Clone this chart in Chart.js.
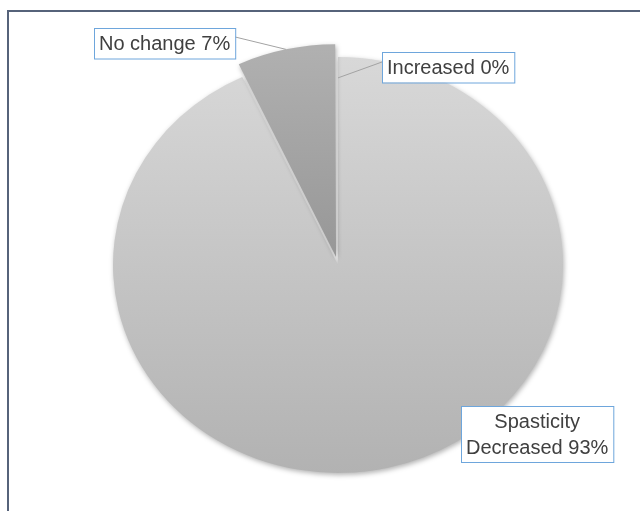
<!DOCTYPE html>
<html>
<head>
<meta charset="utf-8">
<script src="https://cdn.jsdelivr.net/npm/chart.js@4.4.1/dist/chart.umd.min.js"></script>
<style>
  html, body { margin: 0; padding: 0; background: #fff; overflow: hidden; }
  #wrap { position: relative; width: 640px; height: 511px; }
  #frame { position: absolute; left: 7px; top: 10px; width: 700px; height: 600px; border: 2px solid #56637a; box-sizing: border-box; }
  canvas { position: absolute; left: 0; top: 0; }
</style>
</head>
<body>
<div id="wrap">
  <div id="frame"></div>
  <canvas id="pieChart" width="640" height="511"></canvas>
</div>
<script>
// Outcome categories, clockwise from 12 o'clock
const categories = ['Increased', ['Spasticity', 'Decreased'], 'No change'];
const percentages = [0, 93, 7];

// Slice look: gradient top/bottom colours and explode offset
const sliceShades = [['#d8d8d8', '#b2b2b2'], ['#d8d8d8', '#b2b2b2'], ['#b0b0b0', '#7e7e7e']];
const sliceOffsets = [0, 0, 36];

// Callout boxes: centre of box, leader line side and how far into the pie it reaches
const labelLayout = [
    { x: 448, y: 67.5, side: 'left', lineY: 10, reach: 0.9 },
    { x: 537, y: 434, side: null },
    { x: 164.5, y: 43, side: 'right', lineY: 9, reach: 1.0 }
];

const PIE_RADIUS = 225;
const Y_SQUASH = 0.924;   // pie is drawn slightly flattened
const FONT = '20px "Liberation Sans", Arial, sans-serif';
const LINE_H = 25.5;
const PAD_X = 5;
const PAD_Y = 2.5;

function pieCenter(chart) {
    const a = chart.chartArea;
    return { cx: (a.left + a.right) / 2, cy: (a.top + a.bottom) / 2 };
}

function labelLines(i) {
    const cat = categories[i];
    const lines = Array.isArray(cat) ? cat.slice() : [cat];
    lines[lines.length - 1] += ' ' + percentages[i] + '%';
    return lines;
}

function sliceFill(context) {
    const shade = sliceShades[context.dataIndex];
    const chart = context.chart;
    if (!chart.chartArea) return shade[0];
    const { cy } = pieCenter(chart);
    const g = chart.ctx.createLinearGradient(0, cy - PIE_RADIUS, 0, cy + PIE_RADIUS);
    g.addColorStop(0, shade[0]);
    g.addColorStop(1, shade[1]);
    return g;
}

// Squash the pie vertically and give it a soft drop shadow
const ellipsePlugin = {
    id: 'ellipse',
    beforeDatasetsDraw(chart) {
        const ctx = chart.ctx;
        const { cx, cy } = pieCenter(chart);
        ctx.save();
        ctx.translate(cx, cy);
        ctx.scale(1, Y_SQUASH);
        ctx.translate(-cx, -cy);
        ctx.shadowColor = 'rgba(0, 0, 0, 0.3)';
        ctx.shadowBlur = 5;
        ctx.shadowOffsetX = 1;
        ctx.shadowOffsetY = 2;
    },
    afterDatasetsDraw(chart) {
        chart.ctx.restore();
    }
};

// Boxed data labels with leader lines
const calloutPlugin = {
    id: 'callouts',
    afterDraw(chart) {
        const ctx = chart.ctx;
        const { cx, cy } = pieCenter(chart);
        const meta = chart.getDatasetMeta(0);
        ctx.save();
        ctx.font = FONT;
        labelLayout.forEach((lay, i) => {
            const lines = labelLines(i);
            const w = Math.max(...lines.map(l => ctx.measureText(l).width)) + PAD_X * 2;
            const h = lines.length * LINE_H + PAD_Y * 2;
            const left = Math.round(lay.x - w / 2);
            const top = Math.round(lay.y - h / 2);

            if (lay.side) {
                const arc = meta.data[i];
                const mid = (arc.startAngle + arc.endAngle) / 2;
                const shift = (arc.options.offset || 0) / 4;
                const fix = 1 - Math.sin(Math.min(Math.PI, arc.circumference));
                const r = arc.outerRadius * lay.reach + shift * (1 + fix);
                const px = cx + Math.cos(mid) * r;
                const py = cy + Math.sin(mid) * r * Y_SQUASH;
                const sx = lay.side === 'left' ? left : left + w;
                ctx.beginPath();
                ctx.moveTo(sx, top + lay.lineY);
                ctx.lineTo(px, py);
                ctx.strokeStyle = '#a3a3a3';
                ctx.lineWidth = 1;
                ctx.stroke();
            }

            ctx.fillStyle = '#ffffff';
            ctx.fillRect(left, top, w, h);
            ctx.strokeStyle = '#6ea6dc';
            ctx.lineWidth = 1;
            ctx.strokeRect(left + 0.5, top + 0.5, w, h);

            ctx.fillStyle = '#404040';
            ctx.textAlign = 'center';
            ctx.textBaseline = 'alphabetic';
            lines.forEach((line, k) => {
                const lineMid = top + PAD_Y + LINE_H * (k + 0.5);
                ctx.fillText(line, left + w / 2, lineMid + 7);
            });
        });
        ctx.restore();
    }
};

new Chart(document.getElementById('pieChart'), {
    type: 'pie',
    data: {
        labels: categories,
        datasets: [{
            data: percentages,
            backgroundColor: sliceFill,
            borderWidth: 0,
            offset: sliceOffsets,
            clip: false
        }]
    },
    options: {
        responsive: false,
        animation: false,
        radius: PIE_RADIUS,
        layout: { padding: { left: 36, top: 19, right: 0, bottom: 0 } },
        plugins: {
            legend: { display: false },
            tooltip: { enabled: false }
        },
        events: []
    },
    plugins: [ellipsePlugin, calloutPlugin]
});
</script>
</body>
</html>
